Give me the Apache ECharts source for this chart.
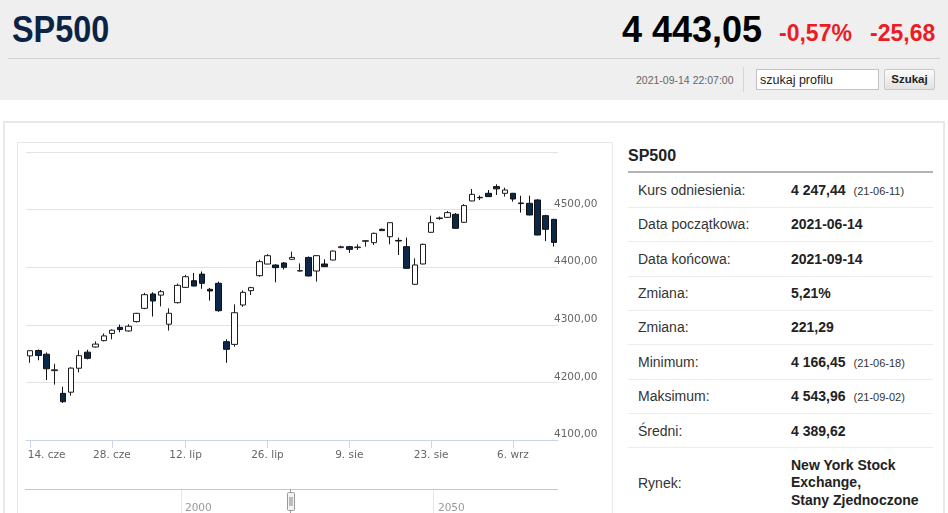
<!DOCTYPE html>
<html><head><meta charset="utf-8">
<script src="https://cdn.jsdelivr.net/npm/echarts@6/dist/echarts.min.js"></script>
<style>
body{margin:0;width:948px;height:513px;overflow:hidden;background:#fff;font-family:"Liberation Sans",Arial,sans-serif;position:relative}
.a{position:absolute;white-space:nowrap}
.lab{position:absolute;left:638px;font-size:14px;color:#333;white-space:nowrap}
.val{position:absolute;left:791px;font-size:14px;font-weight:bold;color:#222;white-space:nowrap}
.val small{font-size:11px;font-weight:normal;color:#333;margin-left:8px}
.sep{position:absolute;left:628px;width:305px;height:1px;background:#ececec}
</style></head><body>
<div class="a" style="left:0;top:0;width:948px;height:100px;background:#efefef"></div>
<div class="a" style="left:12px;top:10px;font-size:36px;line-height:40px;color:#0b2344;font-weight:bold;transform:scaleX(0.9);transform-origin:0 0">SP500</div>
<div class="a" style="left:622px;top:10px;font-size:36px;line-height:40px;font-weight:bold;color:#000">4 443,05</div>
<div class="a" style="left:779px;top:20px;font-size:23px;line-height:26px;font-weight:bold;color:#ec1c24">-0,57%</div>
<div class="a" style="left:870px;top:20px;font-size:23px;line-height:26px;font-weight:bold;color:#ec1c24">-25,68</div>
<div class="a" style="left:8px;top:58px;width:932px;height:1px;background:#d3d3d3"></div>
<div class="a" style="left:636px;top:73px;font-size:10.5px;line-height:15px;color:#666">2021-09-14 22:07:00</div>
<div class="a" style="left:743px;top:67px;width:1px;height:25px;background:#d6d6d6"></div>
<div class="a" style="left:756px;top:69px;width:123px;height:21px;background:#fff;border:1px solid #c3c3c3;box-sizing:border-box"></div>
<div class="a" style="left:760px;top:72px;font-size:12.5px;line-height:16px;color:#222">szukaj profilu</div>
<div class="a" style="left:884px;top:69px;width:51px;height:21px;box-sizing:border-box;border:1px solid #c8c8c8;border-radius:2px;background:linear-gradient(#fbfbfb,#e2e2e2);font-size:11.5px;font-weight:bold;color:#222;text-align:center;line-height:19px">Szukaj</div>

<div class="a" style="left:3px;top:121px;width:942px;height:400px;border:2px solid #e8e8e8;box-sizing:border-box"></div>
<div class="a" style="left:17px;top:142px;width:596px;height:380px;border:1px solid #e8e8e8;box-sizing:border-box"></div>
<div id="chart" class="a" style="left:17px;top:142px;width:595px;height:371px"></div>

<div class="a" style="left:628px;top:146px;font-size:16px;line-height:20px;font-weight:bold;color:#222">SP500</div>
<div class="a" style="left:628px;top:171px;width:305px;height:2px;background:#b4b4b4"></div>
<div id="tbl"></div>

<script>
// ---- chart data ----
const dates = [
 '2021-06-14','2021-06-15','2021-06-16','2021-06-17','2021-06-18','2021-06-21','2021-06-22','2021-06-23','2021-06-24','2021-06-25',
 '2021-06-28','2021-06-29','2021-06-30','2021-07-01','2021-07-02','2021-07-06','2021-07-07','2021-07-08','2021-07-09',
 '2021-07-12','2021-07-13','2021-07-14','2021-07-15','2021-07-16','2021-07-19','2021-07-20','2021-07-21','2021-07-22','2021-07-23',
 '2021-07-26','2021-07-27','2021-07-28','2021-07-29','2021-07-30','2021-08-02','2021-08-03','2021-08-04','2021-08-05','2021-08-06',
 '2021-08-09','2021-08-10','2021-08-11','2021-08-12','2021-08-13','2021-08-16','2021-08-17','2021-08-18','2021-08-19','2021-08-20',
 '2021-08-23','2021-08-24','2021-08-25','2021-08-26','2021-08-27','2021-08-30','2021-08-31','2021-09-01','2021-09-02','2021-09-03',
 '2021-09-07','2021-09-08','2021-09-09','2021-09-10','2021-09-13','2021-09-14'];
const opens = [
 4246,4255.3,4248.9,4220.4,4181,4183,4224.6,4252.5,4261.5,4272.5,
 4285,4295.6,4289.3,4305.5,4328.6,4353.5,4351.5,4301,4338.4,
 4365,4376.6,4388,4361.6,4372,4270.7,4266,4334.4,4359.3,4385.3,
 4405.5,4403.8,4407.3,4413.7,4393.4,4417,4393.4,4405.6,4412.5,4434,
 4435.7,4434,4445,4442.6,4465.8,4453,4446.5,4435.7,4370.3,4405.6,
 4460.6,4484.4,4486.6,4491.8,4478,4515,4521.2,4528.3,4539.9,4528.3,
 4528.3,4511.5,4510.9,4516.7,4489.5,4483.1];
const closes = [
 4255,4246.6,4223.7,4221.9,4166.45,4224.8,4246.4,4241.8,4266.5,4280.7,
 4290.6,4291.8,4297.5,4319.9,4352.3,4341.3,4357.5,4320,4368.5,
 4383.5,4367.3,4372,4358.7,4324.5,4257.4,4321,4356.3,4364.5,4409.6,
 4420,4399.2,4399.8,4417,4394,4384.8,4420,4401,4428,4435.5,
 4431,4435,4446,4458.8,4463.5,4477.3,4445.5,4398,4403.9,4439.7,
 4477.3,4485.5,4494.7,4467.5,4506.9,4526.5,4520.5,4522.5,4536,4534,
 4518.4,4510.5,4490.7,4455.9,4465.8,4443.05];
const lows = [
 4234,4238.4,4204,4196.1,4164.4,4177,4217.3,4240,4260.5,4271.2,
 4274.7,4287,4288,4304,4327,4314.4,4332,4290,4337,
 4364,4366.9,4362.4,4342,4322.5,4234,4262,4331.1,4351.7,4383.5,
 4405.4,4373.7,4396,4413.5,4392.5,4384,4375,4400.2,4412,4433,
 4425,4430,4435.7,4438.6,4463,4439.7,4421.2,4397.6,4369.5,4405,
 4460,4482.3,4485.7,4467,4477,4514.5,4516.5,4522,4525.4,4522.5,
 4513.8,4494.7,4490,4455.5,4445.5,4435.7];
const highs = [
 4256,4257.2,4251.9,4232.3,4192.6,4226.2,4255.8,4256.6,4271.3,4285,
 4292.1,4300.5,4301,4320.7,4355.4,4356.5,4360.5,4328.6,4371.6,
 4386.7,4390,4392.5,4364,4375,4274.7,4335.5,4359.7,4366,4413,
 4422.7,4405,4409,4427,4406.7,4418.5,4421,4413.7,4429,4437.5,
 4437,4439.7,4446.5,4460,4467,4478,4451.3,4451.3,4415.4,4441,
 4489.5,4488,4497.6,4494,4509.5,4535.8,4524.5,4534,4543.96,4538,
 4529,4524.2,4524.2,4518,4491,4484];
// x-axis tick labels (the "6. wrz" tick sits at the first session after the holiday)
const tickDates  = ['2021-06-14','2021-06-28','2021-07-12','2021-07-26','2021-08-09','2021-08-23','2021-09-07'];
const tickLabels = ['14. cze','28. cze','12. lip','26. lip','9. sie','23. sie','6. wrz'];
// y-axis
const yMin = 4100, yMax = 4600, yStep = 100;
// navigator axis labels
const navYears = [2000, 2050];

// ---- side table ----
const rowLabels = ['Kurs odniesienia:','Data początkowa:','Data końcowa:','Zmiana:','Zmiana:','Minimum:','Maksimum:','Średni:','Rynek:'];
const rowValues = ['4 247,44','2021-06-14','2021-09-14','5,21%','221,29','4 166,45','4 543,96','4 389,62','New York Stock<br>Exchange,<br>Stany Zjednoczone'];
const rowNotes  = ['(21-06-11)','','','','','(21-06-18)','(21-09-02)','',''];

(function(){
  let h = '';
  const top0 = 173, rh = 34.35;
  for (let i = 0; i < rowLabels.length; i++) {
    const t = top0 + i * rh;
    if (i > 0) h += `<div class="sep" style="top:${(t-0.5).toFixed(1)}px"></div>`;
    if (i < rowLabels.length - 1) {
      h += `<div class="lab" style="top:${t.toFixed(1)}px;line-height:${rh}px">${rowLabels[i]}</div>`;
      h += `<div class="val" style="top:${t.toFixed(1)}px;line-height:${rh}px">${rowValues[i]}${rowNotes[i] ? '<small>'+rowNotes[i]+'</small>' : ''}</div>`;
    } else {
      h += `<div class="lab" style="top:${(t+26.5).toFixed(1)}px;line-height:18px">${rowLabels[i]}</div>`;
      h += `<div class="val" style="top:${(t+8.7).toFixed(1)}px;line-height:17.7px">${rowValues[i]}</div>`;
    }
  }
  document.getElementById('tbl').innerHTML = h;
})();

// ---- chart ----
const candles = dates.map((d, i) => [opens[i], closes[i], lows[i], highs[i]]);
const isTick = (idx, val) => tickDates.indexOf(val) >= 0;
const lblFont = {color: '#666', fontSize: 10.5, fontFamily: 'DejaVu Sans'};

const chart = echarts.init(document.getElementById('chart'), null, {renderer: 'canvas'});
chart.setOption({
  animation: false,
  grid: {left: 9, top: 10, width: 532, height: 288},
  xAxis: {
    type: 'category', data: dates, boundaryGap: true,
    axisLine: {lineStyle: {color: '#ccd6eb'}},
    axisTick: {show: true, alignWithLabel: true, interval: isTick, length: 8, lineStyle: {color: '#ccd6eb'}},
    axisLabel: Object.assign({
      interval: isTick, margin: 10,
      formatter: (val) => {
        const k = tickDates.indexOf(val);
        if (k < 0) return '';
        return k === 0 ? '{first|' + tickLabels[k] + '}' : tickLabels[k];
      },
      rich: {first: Object.assign({padding: [0, 0, 0, 33]}, lblFont)}
    }, lblFont),
    splitLine: {show: false}
  },
  yAxis: {
    type: 'value', position: 'right', min: yMin, max: yMax, interval: yStep, scale: true,
    axisLine: {show: false}, axisTick: {show: false},
    splitLine: {lineStyle: {color: '#e3e3e3'}},
    axisLabel: Object.assign({
      showMaxLabel: false, margin: -4, align: 'left', verticalAlign: 'bottom',
      formatter: v => v.toFixed(2).replace('.', ',')
    }, lblFont)
  },
  series: [{
    type: 'candlestick', data: candles, barWidth: 6,
    itemStyle: {color: '#ffffff', color0: '#0c2748', borderColor: '#1c1c1c', borderColor0: '#111111', borderColorDoji: '#1c1c1c', borderWidth: 1}
  }],
  graphic: [
    {type: 'line', shape: {x1: 8, y1: 347.5, x2: 541, y2: 347.5}, style: {stroke: '#c6c6c6', lineWidth: 1}},
    {type: 'line', shape: {x1: 164.5, y1: 348, x2: 164.5, y2: 371}, style: {stroke: '#e6e6e6', lineWidth: 1}},
    {type: 'line', shape: {x1: 416.5, y1: 348, x2: 416.5, y2: 371}, style: {stroke: '#e6e6e6', lineWidth: 1}},
    {type: 'text', x: 168, y: 361, style: {text: String(navYears[0]), fill: '#999', fontSize: 10.5, fontFamily: 'DejaVu Sans'}},
    {type: 'text', x: 421, y: 361, style: {text: String(navYears[1]), fill: '#999', fontSize: 10.5, fontFamily: 'DejaVu Sans'}},
    {type: 'line', shape: {x1: 273.5, y1: 347, x2: 273.5, y2: 371}, style: {stroke: '#999', lineWidth: 1}},
    {type: 'rect', shape: {x: 270.5, y: 350.5, width: 7, height: 18, r: 1}, style: {fill: '#f2f2f2', stroke: '#999', lineWidth: 1}},
    {type: 'line', shape: {x1: 273, y1: 355, x2: 273, y2: 364}, style: {stroke: '#888', lineWidth: 1}},
    {type: 'line', shape: {x1: 275, y1: 355, x2: 275, y2: 364}, style: {stroke: '#888', lineWidth: 1}}
  ]
});
</script>
</body></html>
